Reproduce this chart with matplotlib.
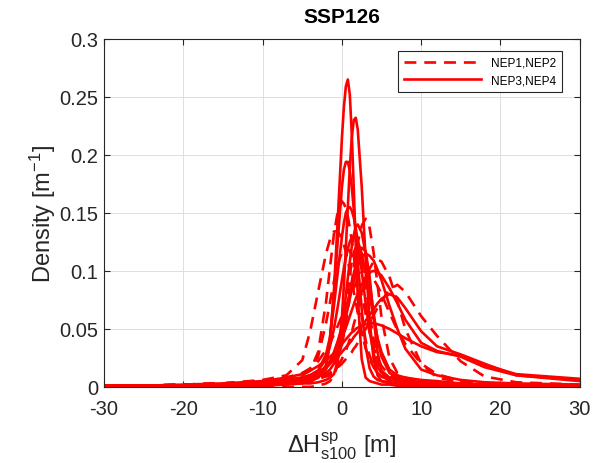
import matplotlib
matplotlib.use("Agg")
import matplotlib.pyplot as plt

plt.rcParams['font.family'] = ['Liberation Sans', 'DejaVu Sans']
plt.rcParams['mathtext.default'] = 'regular'
plt.rcParams['axes.unicode_minus'] = False

# common x grid (m)
x = [-30, -25, -20, -15, -10, -7, -5, -4, -3, -2, -1.5, -1, -0.5, 0, 0.25,
     0.5, 0.75, 1, 1.25, 1.5, 1.75, 2, 2.5, 3, 3.5, 4, 4.5, 5, 6, 7,
     8, 10, 12, 15, 18, 22, 30]

# NEP3,NEP4 (solid)
s1 = [0.001, 0.001, 0.001, 0.001, 0.002, 0.003, 0.004, 0.005, 0.008, 0.015, 0.039, 0.083, 0.147, 0.214, 0.241,
      0.259, 0.265, 0.252, 0.218, 0.171, 0.121, 0.078, 0.024, 0.008, 0.005, 0.004, 0.003, 0.002, 0.002, 0.001,
      0.001, 0.001, 0.001, 0.001, 0.001, 0.001, 0.001]
s2 = [0.001, 0.001, 0.001, 0.001, 0.001, 0.002, 0.003, 0.003, 0.004, 0.006, 0.008, 0.011, 0.023, 0.06, 0.087,
      0.12, 0.155, 0.189, 0.215, 0.23, 0.232, 0.222, 0.173, 0.11, 0.057, 0.024, 0.01, 0.005, 0.003, 0.002,
      0.002, 0.001, 0.001, 0.001, 0.001, 0.001, 0.001]
s3 = [0.001, 0.001, 0.001, 0.002, 0.002, 0.003, 0.003, 0.005, 0.008, 0.019, 0.042, 0.08, 0.128, 0.172, 0.187,
      0.194, 0.194, 0.186, 0.172, 0.153, 0.132, 0.109, 0.067, 0.035, 0.016, 0.009, 0.006, 0.005, 0.004, 0.003,
      0.003, 0.002, 0.002, 0.001, 0.001, 0.001, 0.001]
s4 = [0.001, 0.001, 0.001, 0.002, 0.003, 0.006, 0.008, 0.01, 0.014, 0.028, 0.043, 0.07, 0.1, 0.129, 0.141,
      0.15, 0.154, 0.155, 0.152, 0.146, 0.137, 0.126, 0.1, 0.072, 0.048, 0.029, 0.017, 0.012, 0.008, 0.006,
      0.005, 0.004, 0.003, 0.002, 0.002, 0.001, 0.001]
s5 = [0.001, 0.001, 0.001, 0.002, 0.003, 0.005, 0.008, 0.01, 0.014, 0.024, 0.035, 0.05, 0.07, 0.092, 0.102,
      0.111, 0.119, 0.125, 0.129, 0.13, 0.129, 0.126, 0.115, 0.098, 0.079, 0.06, 0.042, 0.03, 0.015, 0.01,
      0.008, 0.006, 0.005, 0.003, 0.002, 0.002, 0.001]
s6 = [0.001, 0.001, 0.001, 0.002, 0.003, 0.005, 0.007, 0.008, 0.011, 0.016, 0.02, 0.025, 0.034, 0.045, 0.053,
      0.06, 0.068, 0.076, 0.084, 0.091, 0.098, 0.104, 0.112, 0.115, 0.113, 0.109, 0.101, 0.092, 0.07, 0.05,
      0.033, 0.015, 0.01, 0.006, 0.004, 0.003, 0.002]
s7 = [0.001, 0.001, 0.001, 0.002, 0.003, 0.005, 0.007, 0.009, 0.012, 0.017, 0.022, 0.027, 0.033, 0.041, 0.046,
      0.051, 0.056, 0.061, 0.066, 0.071, 0.076, 0.08, 0.088, 0.095, 0.099, 0.1, 0.099, 0.096, 0.085, 0.072,
      0.058, 0.038, 0.031, 0.026, 0.017, 0.01, 0.006]
s8 = [0.001, 0.001, 0.002, 0.003, 0.005, 0.008, 0.011, 0.014, 0.018, 0.023, 0.026, 0.029, 0.033, 0.037, 0.039,
      0.041, 0.043, 0.045, 0.047, 0.048, 0.05, 0.051, 0.053, 0.054, 0.055, 0.055, 0.054, 0.053, 0.05, 0.046,
      0.042, 0.035, 0.03, 0.027, 0.019, 0.011, 0.007]
s9 = [0.001, 0.001, 0.001, 0.002, 0.004, 0.006, 0.008, 0.01, 0.013, 0.017, 0.02, 0.023, 0.026, 0.03, 0.032,
      0.034, 0.036, 0.038, 0.04, 0.043, 0.045, 0.047, 0.052, 0.057, 0.062, 0.067, 0.072, 0.076, 0.08, 0.077,
      0.068, 0.048, 0.035, 0.028, 0.02, 0.01, 0.005]
s10 = [0.0, 0.0, 0.0, 0.001, 0.002, 0.003, 0.004, 0.006, 0.009, 0.016, 0.022, 0.03, 0.04, 0.052, 0.059,
       0.066, 0.074, 0.082, 0.09, 0.098, 0.105, 0.112, 0.12, 0.117, 0.095, 0.06, 0.03, 0.014, 0.008, 0.007,
       0.005, 0.003, 0.002, 0.001, 0.001, 0.0, 0.0]
s11 = [0.001, 0.001, 0.001, 0.002, 0.003, 0.004, 0.006, 0.007, 0.009, 0.012, 0.015, 0.02, 0.032, 0.05, 0.064,
       0.079, 0.094, 0.108, 0.121, 0.131, 0.138, 0.14, 0.133, 0.115, 0.09, 0.064, 0.041, 0.026, 0.012, 0.008,
       0.006, 0.004, 0.003, 0.002, 0.002, 0.001, 0.001]

# NEP1,NEP2 (dashed)
d1 = [0.001, 0.001, 0.002, 0.003, 0.005, 0.007, 0.01, 0.014, 0.03, 0.073, 0.103, 0.132, 0.152, 0.16, 0.158,
      0.154, 0.147, 0.137, 0.126, 0.113, 0.1, 0.086, 0.061, 0.04, 0.027, 0.018, 0.012, 0.009, 0.006, 0.005,
      0.004, 0.003, 0.002, 0.002, 0.001, 0.001, 0.001]
d2 = [0.001, 0.001, 0.002, 0.003, 0.006, 0.01, 0.023, 0.048, 0.082, 0.115, 0.127, 0.134, 0.134, 0.128, 0.123,
      0.116, 0.109, 0.1, 0.091, 0.082, 0.073, 0.064, 0.047, 0.033, 0.024, 0.017, 0.012, 0.009, 0.006, 0.004,
      0.003, 0.002, 0.002, 0.001, 0.001, 0.001, 0.001]
d3 = [0.001, 0.001, 0.001, 0.002, 0.003, 0.004, 0.005, 0.006, 0.008, 0.01, 0.012, 0.016, 0.025, 0.036, 0.045,
      0.055, 0.066, 0.078, 0.09, 0.103, 0.114, 0.124, 0.139, 0.145, 0.137, 0.116, 0.088, 0.06, 0.025, 0.012,
      0.008, 0.005, 0.003, 0.002, 0.001, 0.001, 0.001]
d4 = [0.001, 0.001, 0.001, 0.002, 0.003, 0.004, 0.005, 0.006, 0.007, 0.009, 0.01, 0.013, 0.018, 0.024, 0.028,
      0.031, 0.036, 0.041, 0.047, 0.054, 0.06, 0.067, 0.08, 0.092, 0.102, 0.108, 0.11, 0.108, 0.095, 0.074,
      0.05, 0.02, 0.008, 0.004, 0.002, 0.001, 0.001]
d5 = [0.001, 0.001, 0.001, 0.001, 0.002, 0.003, 0.004, 0.005, 0.007, 0.01, 0.012, 0.014, 0.017, 0.02, 0.022,
      0.024, 0.026, 0.028, 0.03, 0.033, 0.035, 0.038, 0.044, 0.05, 0.056, 0.062, 0.068, 0.074, 0.084, 0.088,
      0.082, 0.061, 0.044, 0.022, 0.009, 0.004, 0.002]
d6 = [0.0, 0.0, 0.0, 0.0, 0.0, 0.0, 0.0, 0.0, 0.001, 0.003, 0.005, 0.01, 0.019, 0.039, 0.052,
      0.067, 0.082, 0.096, 0.108, 0.116, 0.12, 0.119, 0.108, 0.087, 0.063, 0.041, 0.024, 0.012, 0.004, 0.002,
      0.001, 0.001, 0.0, 0.0, 0.0, 0.0, 0.0]
d7 = [0.001, 0.001, 0.002, 0.003, 0.005, 0.008, 0.011, 0.015, 0.026, 0.055, 0.073, 0.091, 0.106, 0.116, 0.119,
      0.12, 0.119, 0.117, 0.113, 0.108, 0.102, 0.095, 0.079, 0.063, 0.047, 0.034, 0.025, 0.018, 0.01, 0.007,
      0.005, 0.003, 0.002, 0.002, 0.001, 0.001, 0.001]
d8 = [0.001, 0.001, 0.002, 0.003, 0.005, 0.008, 0.012, 0.016, 0.022, 0.032, 0.038, 0.045, 0.053, 0.061, 0.065,
      0.069, 0.073, 0.077, 0.081, 0.085, 0.089, 0.093, 0.099, 0.1, 0.098, 0.093, 0.087, 0.08, 0.064, 0.049,
      0.037, 0.02, 0.011, 0.005, 0.003, 0.002, 0.001]

solid = [s1, s2, s3, s4, s5, s6, s7, s8, s9, s10, s11]
dashed = [d1, d2, d3, d4, d5, d6, d7, d8]

fig = plt.figure(figsize=(6.16, 4.64), dpi=100)
ax = fig.add_axes([0.169, 0.164, 0.772, 0.75])

for i, y in enumerate(dashed):
    ax.plot(x, y, color='red', lw=1.9, dashes=(4.5, 3),
            label='NEP1,NEP2' if i == 0 else None)
for i, y in enumerate(solid):
    ax.plot(x, y, color='red', lw=1.9,
            label='NEP3,NEP4' if i == 0 else None)

ax.set_xlim(-30, 30)
ax.set_ylim(0, 0.3)
ax.set_xticks([-30, -20, -10, 0, 10, 20, 30])
ax.set_yticks([0, 0.05, 0.1, 0.15, 0.2, 0.25, 0.3])
ax.set_yticklabels(['0', '0.05', '0.1', '0.15', '0.2', '0.25', '0.3'])
ax.tick_params(direction='in', labelsize=14.5, top=True, right=True, length=4,
               color='#262626', labelcolor='#262626')
ax.tick_params(axis='x', pad=9)
ax.tick_params(axis='y', pad=4)
ax.grid(True, color='#dedede', lw=0.7)
for sp in ax.spines.values():
    sp.set_linewidth(0.8)
    sp.set_color('#262626')

ax.set_title('SSP126', fontsize=15, fontweight='bold', pad=12)
ax.set_ylabel('Density [m$^{-1}$]', fontsize=17, color='#262626', labelpad=1)
ax.set_xlabel(r'$\Delta H^{sp}_{s100}$ [m]', fontsize=17, color='#262626', labelpad=8)

leg = ax.legend(loc='upper right', fontsize=8.5, handlelength=6.5, fancybox=False,
                edgecolor='#262626', framealpha=1, borderpad=0.5, borderaxespad=0,
                bbox_to_anchor=(0.962, 0.966))
leg.get_frame().set_linewidth(0.8)

fig.savefig('out.png', dpi=100)
